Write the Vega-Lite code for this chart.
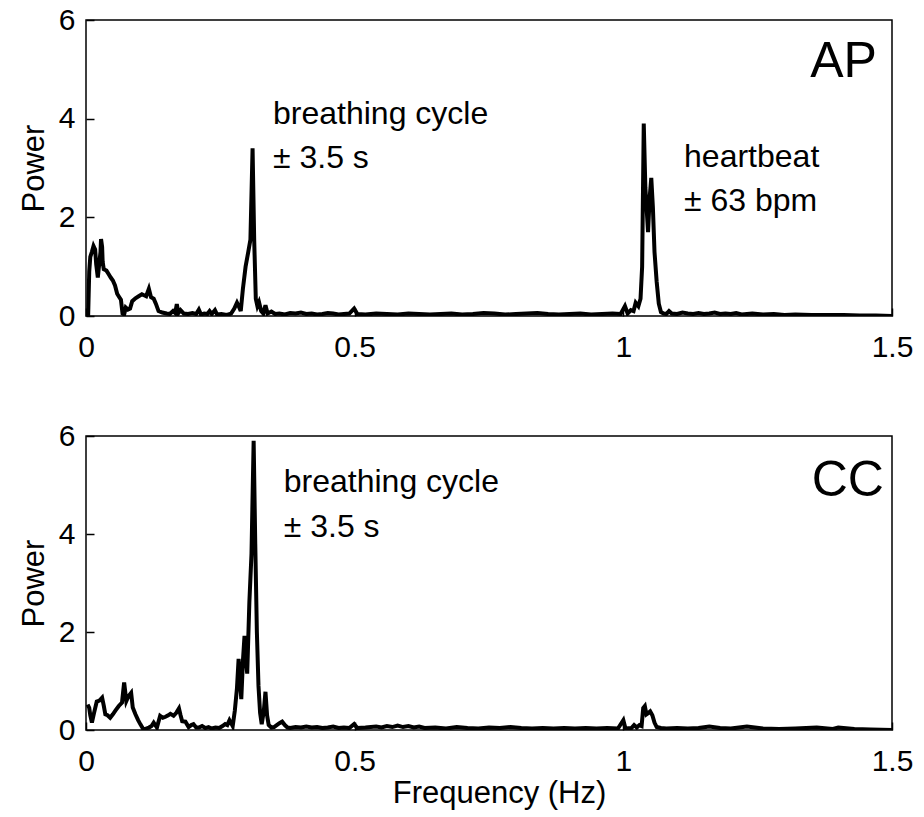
{
  "$schema": "https://vega.github.io/schema/vega-lite/v6.json",
  "background": "white",
  "padding": {"left": 17, "top": 4, "right": 10, "bottom": 5},
  "config": {
    "font": "Liberation Sans",
    "view": {"stroke": "black", "strokeWidth": 1.5},
    "axis": {
      "domain": false, "grid": false,
      "tickColor": "black", "tickSize": -8, "tickWidth": 1.5,
      "labelColor": "black", "labelFontSize": 30, "labelFont": "Liberation Sans",
      "labelFlush": false, "labelOverlap": false,
      "titleFontSize": 31, "titleFontWeight": "normal", "titleColor": "black", "titleFont": "Liberation Sans"
    }
  },
  "datasets": {
    "ap": [
      {"f":0.000,"p":0.0},{"f":0.004,"p":0.0},{"f":0.006,"p":0.9},{"f":0.008,"p":1.2},{"f":0.011,"p":1.3},{"f":0.014,"p":1.42},{"f":0.017,"p":1.35},{"f":0.019,"p":1.05},{"f":0.022,"p":0.78},{"f":0.025,"p":1.1},{"f":0.027,"p":1.3},{"f":0.028,"p":1.56},{"f":0.030,"p":1.4},{"f":0.031,"p":1.1},{"f":0.033,"p":0.95},{"f":0.038,"p":0.92},{"f":0.042,"p":0.85},{"f":0.046,"p":0.78},{"f":0.050,"p":0.72},{"f":0.054,"p":0.62},{"f":0.058,"p":0.45},{"f":0.062,"p":0.38},{"f":0.065,"p":0.33},{"f":0.068,"p":0.05},{"f":0.071,"p":0.03},{"f":0.074,"p":0.17},{"f":0.078,"p":0.13},{"f":0.082,"p":0.15},{"f":0.086,"p":0.30},{"f":0.092,"p":0.36},{"f":0.098,"p":0.40},{"f":0.104,"p":0.44},{"f":0.108,"p":0.42},{"f":0.112,"p":0.40},{"f":0.117,"p":0.55},{"f":0.121,"p":0.38},{"f":0.126,"p":0.35},{"f":0.130,"p":0.25},{"f":0.135,"p":0.10},{"f":0.142,"p":0.07},{"f":0.150,"p":0.05},{"f":0.156,"p":0.04},{"f":0.162,"p":0.10},{"f":0.166,"p":0.06},{"f":0.169,"p":0.24},{"f":0.172,"p":0.06},{"f":0.176,"p":0.12},{"f":0.182,"p":0.05},{"f":0.190,"p":0.04},{"f":0.198,"p":0.06},{"f":0.205,"p":0.04},{"f":0.210,"p":0.13},{"f":0.214,"p":0.03},{"f":0.220,"p":0.05},{"f":0.226,"p":0.04},{"f":0.230,"p":0.10},{"f":0.234,"p":0.04},{"f":0.240,"p":0.12},{"f":0.244,"p":0.03},{"f":0.252,"p":0.04},{"f":0.262,"p":0.02},{"f":0.270,"p":0.05},{"f":0.276,"p":0.15},{"f":0.281,"p":0.27},{"f":0.285,"p":0.18},{"f":0.288,"p":0.10},{"f":0.292,"p":0.55},{"f":0.297,"p":1.0},{"f":0.302,"p":1.3},{"f":0.306,"p":1.55},{"f":0.310,"p":3.4},{"f":0.313,"p":1.55},{"f":0.316,"p":0.35},{"f":0.319,"p":0.2},{"f":0.322,"p":0.28},{"f":0.326,"p":0.1},{"f":0.330,"p":0.05},{"f":0.334,"p":0.22},{"f":0.338,"p":0.05},{"f":0.345,"p":0.09},{"f":0.352,"p":0.04},{"f":0.36,"p":0.05},{"f":0.37,"p":0.03},{"f":0.38,"p":0.06},{"f":0.39,"p":0.05},{"f":0.40,"p":0.07},{"f":0.41,"p":0.04},{"f":0.42,"p":0.05},{"f":0.43,"p":0.03},{"f":0.44,"p":0.04},{"f":0.45,"p":0.06},{"f":0.46,"p":0.05},{"f":0.47,"p":0.03},{"f":0.48,"p":0.04},{"f":0.49,"p":0.05},{"f":0.499,"p":0.15},{"f":0.505,"p":0.04},{"f":0.52,"p":0.03},{"f":0.54,"p":0.05},{"f":0.56,"p":0.04},{"f":0.58,"p":0.03},{"f":0.60,"p":0.05},{"f":0.62,"p":0.04},{"f":0.64,"p":0.03},{"f":0.66,"p":0.04},{"f":0.68,"p":0.05},{"f":0.70,"p":0.03},{"f":0.72,"p":0.04},{"f":0.74,"p":0.06},{"f":0.76,"p":0.05},{"f":0.78,"p":0.03},{"f":0.80,"p":0.04},{"f":0.82,"p":0.05},{"f":0.84,"p":0.06},{"f":0.86,"p":0.04},{"f":0.88,"p":0.03},{"f":0.90,"p":0.04},{"f":0.92,"p":0.05},{"f":0.94,"p":0.03},{"f":0.96,"p":0.04},{"f":0.98,"p":0.05},{"f":0.995,"p":0.04},{"f":1.003,"p":0.2},{"f":1.008,"p":0.05},{"f":1.014,"p":0.12},{"f":1.019,"p":0.1},{"f":1.023,"p":0.27},{"f":1.028,"p":0.2},{"f":1.032,"p":0.35},{"f":1.035,"p":1.0},{"f":1.038,"p":3.9},{"f":1.041,"p":2.6},{"f":1.046,"p":1.7},{"f":1.049,"p":2.4},{"f":1.052,"p":2.8},{"f":1.055,"p":2.2},{"f":1.058,"p":1.3},{"f":1.062,"p":0.7},{"f":1.066,"p":0.25},{"f":1.070,"p":0.08},{"f":1.075,"p":0.05},{"f":1.080,"p":0.04},{"f":1.085,"p":0.1},{"f":1.090,"p":0.05},{"f":1.10,"p":0.04},{"f":1.11,"p":0.07},{"f":1.12,"p":0.05},{"f":1.13,"p":0.04},{"f":1.14,"p":0.06},{"f":1.15,"p":0.04},{"f":1.16,"p":0.05},{"f":1.17,"p":0.07},{"f":1.18,"p":0.04},{"f":1.19,"p":0.05},{"f":1.20,"p":0.04},{"f":1.21,"p":0.06},{"f":1.22,"p":0.03},{"f":1.24,"p":0.05},{"f":1.26,"p":0.03},{"f":1.28,"p":0.04},{"f":1.30,"p":0.02},{"f":1.32,"p":0.03},{"f":1.35,"p":0.02},{"f":1.38,"p":0.02},{"f":1.41,"p":0.02},{"f":1.44,"p":0.01},{"f":1.47,"p":0.01},{"f":1.50,"p":0.0}
    ],
    "cc": [
      {"f":0.003,"p":0.52},{"f":0.006,"p":0.45},{"f":0.008,"p":0.3},{"f":0.011,"p":0.15},{"f":0.015,"p":0.35},{"f":0.020,"p":0.58},{"f":0.025,"p":0.6},{"f":0.030,"p":0.66},{"f":0.033,"p":0.5},{"f":0.036,"p":0.32},{"f":0.040,"p":0.3},{"f":0.045,"p":0.25},{"f":0.050,"p":0.32},{"f":0.055,"p":0.4},{"f":0.061,"p":0.49},{"f":0.067,"p":0.56},{"f":0.071,"p":0.97},{"f":0.075,"p":0.59},{"f":0.079,"p":0.69},{"f":0.084,"p":0.76},{"f":0.087,"p":0.46},{"f":0.092,"p":0.32},{"f":0.097,"p":0.2},{"f":0.101,"p":0.12},{"f":0.107,"p":0.01},{"f":0.112,"p":0.03},{"f":0.117,"p":0.05},{"f":0.122,"p":0.08},{"f":0.126,"p":0.15},{"f":0.132,"p":0.05},{"f":0.138,"p":0.29},{"f":0.143,"p":0.25},{"f":0.148,"p":0.27},{"f":0.153,"p":0.30},{"f":0.157,"p":0.33},{"f":0.163,"p":0.29},{"f":0.168,"p":0.35},{"f":0.173,"p":0.44},{"f":0.176,"p":0.3},{"f":0.179,"p":0.18},{"f":0.185,"p":0.17},{"f":0.191,"p":0.06},{"f":0.196,"p":0.1},{"f":0.200,"p":0.12},{"f":0.205,"p":0.05},{"f":0.210,"p":0.05},{"f":0.216,"p":0.08},{"f":0.222,"p":0.04},{"f":0.228,"p":0.06},{"f":0.234,"p":0.03},{"f":0.241,"p":0.05},{"f":0.248,"p":0.04},{"f":0.254,"p":0.08},{"f":0.259,"p":0.12},{"f":0.263,"p":0.1},{"f":0.267,"p":0.2},{"f":0.271,"p":0.12},{"f":0.273,"p":0.08},{"f":0.277,"p":0.4},{"f":0.281,"p":0.86},{"f":0.284,"p":1.45},{"f":0.287,"p":0.95},{"f":0.289,"p":0.63},{"f":0.292,"p":1.4},{"f":0.295,"p":1.92},{"f":0.298,"p":1.4},{"f":0.300,"p":1.15},{"f":0.304,"p":2.6},{"f":0.308,"p":3.6},{"f":0.312,"p":5.9},{"f":0.315,"p":3.8},{"f":0.318,"p":2.0},{"f":0.321,"p":0.9},{"f":0.324,"p":0.35},{"f":0.327,"p":0.12},{"f":0.331,"p":0.4},{"f":0.334,"p":0.78},{"f":0.337,"p":0.3},{"f":0.340,"p":0.1},{"f":0.345,"p":0.05},{"f":0.350,"p":0.06},{"f":0.355,"p":0.1},{"f":0.360,"p":0.14},{"f":0.365,"p":0.17},{"f":0.370,"p":0.1},{"f":0.375,"p":0.05},{"f":0.38,"p":0.04},{"f":0.39,"p":0.06},{"f":0.40,"p":0.05},{"f":0.41,"p":0.07},{"f":0.42,"p":0.05},{"f":0.43,"p":0.06},{"f":0.44,"p":0.04},{"f":0.45,"p":0.05},{"f":0.46,"p":0.07},{"f":0.47,"p":0.04},{"f":0.48,"p":0.05},{"f":0.49,"p":0.04},{"f":0.499,"p":0.12},{"f":0.505,"p":0.04},{"f":0.52,"p":0.05},{"f":0.54,"p":0.07},{"f":0.55,"p":0.05},{"f":0.56,"p":0.08},{"f":0.57,"p":0.06},{"f":0.58,"p":0.09},{"f":0.59,"p":0.06},{"f":0.60,"p":0.08},{"f":0.61,"p":0.05},{"f":0.62,"p":0.07},{"f":0.63,"p":0.04},{"f":0.65,"p":0.05},{"f":0.67,"p":0.03},{"f":0.69,"p":0.06},{"f":0.71,"p":0.04},{"f":0.73,"p":0.03},{"f":0.75,"p":0.05},{"f":0.77,"p":0.04},{"f":0.79,"p":0.06},{"f":0.81,"p":0.04},{"f":0.83,"p":0.03},{"f":0.85,"p":0.04},{"f":0.87,"p":0.03},{"f":0.89,"p":0.04},{"f":0.91,"p":0.03},{"f":0.93,"p":0.04},{"f":0.95,"p":0.03},{"f":0.97,"p":0.04},{"f":0.99,"p":0.03},{"f":1.000,"p":0.2},{"f":1.004,"p":0.03},{"f":1.015,"p":0.04},{"f":1.020,"p":0.1},{"f":1.025,"p":0.05},{"f":1.030,"p":0.1},{"f":1.034,"p":0.08},{"f":1.037,"p":0.45},{"f":1.040,"p":0.49},{"f":1.043,"p":0.32},{"f":1.047,"p":0.35},{"f":1.050,"p":0.38},{"f":1.054,"p":0.3},{"f":1.058,"p":0.15},{"f":1.062,"p":0.06},{"f":1.07,"p":0.04},{"f":1.08,"p":0.03},{"f":1.10,"p":0.04},{"f":1.12,"p":0.03},{"f":1.14,"p":0.04},{"f":1.16,"p":0.07},{"f":1.18,"p":0.04},{"f":1.20,"p":0.03},{"f":1.23,"p":0.07},{"f":1.26,"p":0.03},{"f":1.29,"p":0.02},{"f":1.32,"p":0.03},{"f":1.36,"p":0.05},{"f":1.39,"p":0.02},{"f":1.40,"p":0.05},{"f":1.43,"p":0.02},{"f":1.46,"p":0.01},{"f":1.50,"p":0.0}
    ],
    "notes": [
      {"panel":"AP","kind":"note","f":0.348,"p":3.90,"label":"breathing cycle"},
      {"panel":"AP","kind":"note","f":0.348,"p":3.01,"label":"± 3.5 s"},
      {"panel":"AP","kind":"note","f":1.113,"p":3.02,"label":"heartbeat"},
      {"panel":"AP","kind":"note","f":1.113,"p":2.13,"label":"± 63 bpm"},
      {"panel":"AP","kind":"id","f":1.472,"p":4.85,"label":"AP"},
      {"panel":"CC","kind":"note","f":0.368,"p":4.86,"label":"breathing cycle"},
      {"panel":"CC","kind":"note","f":0.368,"p":3.94,"label":"± 3.5 s"},
      {"panel":"CC","kind":"id","f":1.485,"p":4.78,"label":"CC"}
    ]
  },
  "spacing": 120,
  "bounds": "flush",
  "vconcat": [
    {
      "width": 806, "height": 296,
      "encoding": {
        "x": {"field": "f", "type": "quantitative", "scale": {"domain": [0, 1.5], "nice": false},
              "axis": {"values": [0, 0.5, 1, 1.5], "labelExpr": "'' + datum.value", "title": null, "labelPadding": 24}},
        "y": {"field": "p", "type": "quantitative", "scale": {"domain": [0, 6], "nice": false},
              "axis": {"values": [0, 2, 4, 6], "title": "Power", "labelPadding": 19, "titlePadding": 8}}
      },
      "layer": [
        {"data": {"name": "ap"}, "mark": {"type": "line", "color": "black", "strokeWidth": 4, "clip": true}},
        {"data": {"name": "notes"}, "transform": [{"filter": "datum.panel == 'AP' && datum.kind == 'note'"}],
         "mark": {"type": "text", "align": "left", "baseline": "alphabetic", "fontSize": 32, "color": "black"},
         "encoding": {"text": {"field": "label"}}},
        {"data": {"name": "notes"}, "transform": [{"filter": "datum.panel == 'AP' && datum.kind == 'id'"}],
         "mark": {"type": "text", "align": "right", "baseline": "alphabetic", "fontSize": 50, "color": "black"},
         "encoding": {"text": {"field": "label"}}}
      ]
    },
    {
      "width": 806, "height": 294,
      "encoding": {
        "x": {"field": "f", "type": "quantitative", "scale": {"domain": [0, 1.5], "nice": false},
              "axis": {"values": [0, 0.5, 1, 1.5], "labelExpr": "'' + datum.value", "title": "Frequency (Hz)", "labelPadding": 24, "titlePadding": 2, "titleX": 413}},
        "y": {"field": "p", "type": "quantitative", "scale": {"domain": [0, 6], "nice": false},
              "axis": {"values": [0, 2, 4, 6], "title": "Power", "labelPadding": 19, "titlePadding": 8}}
      },
      "layer": [
        {"data": {"name": "cc"}, "mark": {"type": "line", "color": "black", "strokeWidth": 4, "clip": true}},
        {"data": {"name": "notes"}, "transform": [{"filter": "datum.panel == 'CC' && datum.kind == 'note'"}],
         "mark": {"type": "text", "align": "left", "baseline": "alphabetic", "fontSize": 32, "color": "black"},
         "encoding": {"text": {"field": "label"}}},
        {"data": {"name": "notes"}, "transform": [{"filter": "datum.panel == 'CC' && datum.kind == 'id'"}],
         "mark": {"type": "text", "align": "right", "baseline": "alphabetic", "fontSize": 50, "color": "black"},
         "encoding": {"text": {"field": "label"}}}
      ]
    }
  ]
}
